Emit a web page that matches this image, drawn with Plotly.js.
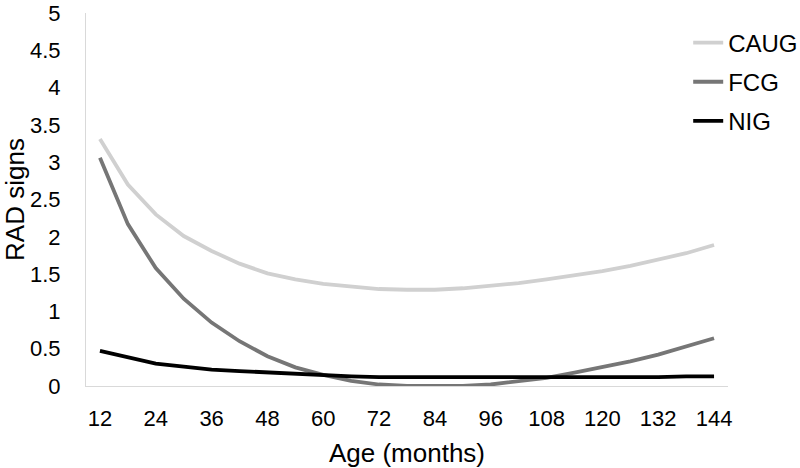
<!DOCTYPE html>
<html>
<head>
<meta charset="utf-8">
<script src="https://cdn.plot.ly/plotly-3.0.1.min.js"></script>
<style>html,body{margin:0;padding:0;background:#fff;}#chart{width:800px;height:468px;}</style>
</head>
<body>
<div id="chart"></div>
<script>
const ageMonths = [12,18,24,30,36,42,48,54,60,66,72,78,84,90,96,102,108,114,120,126,132,138,144];
const caug = [3.31,2.70,2.30,2.01,1.81,1.64,1.51,1.43,1.37,1.33,1.30,1.29,1.29,1.31,1.34,1.38,1.43,1.48,1.54,1.61,1.69,1.78,1.89];
const fcg  = [3.06,2.17,1.58,1.17,0.85,0.60,0.40,0.25,0.15,0.07,0.02,0.00,0.00,0.00,0.02,0.06,0.11,0.18,0.25,0.33,0.42,0.53,0.64];
const nig  = [0.47,0.38,0.30,0.26,0.22,0.20,0.18,0.16,0.14,0.13,0.12,0.12,0.11,0.11,0.11,0.11,0.11,0.11,0.11,0.12,0.12,0.13,0.13];
const xTicks = [12,24,36,48,60,72,84,96,108,120,132,144];
const yTicks = [0,0.5,1,1.5,2,2.5,3,3.5,4,4.5,5];
const yTickText = ['0','0.5','1','1.5','2','2.5','3','3.5','4','4.5','5'];

const fam = 'Liberation Sans, Arial, sans-serif';
const tickFont = {family: fam, size: 22, color: '#000'};
const titleFont = {family: fam, size: 26, color: '#000'};
const legendFont = {family: fam, size: 24, color: '#000'};

const traces = [
  {x: ageMonths, y: caug, name: 'CAUG', legendgroup: 'a', mode: 'lines', line: {color: '#d0d0d0', width: 3.8}},
  {x: ageMonths, y: fcg, name: 'FCG', legendgroup: 'b', mode: 'lines', line: {color: '#767676', width: 3.8}},
  {x: ageMonths, y: nig, name: 'NIG', legendgroup: 'c', mode: 'lines', line: {color: '#000000', width: 3.8}}
];

const layout = {
  width: 800, height: 468,
  margin: {l: 86, r: 72, t: 13, b: 82, autoexpand: false},
  paper_bgcolor: '#fff', plot_bgcolor: '#fff',
  font: tickFont,
  showlegend: true,
  legend: {x: 0.938, y: 0.98, xanchor: 'left', yanchor: 'top', tracegroupgap: 5, font: legendFont, bgcolor: 'rgba(0,0,0,0)'},
  xaxis: {
    range: [9, 147], tickvals: xTicks, ticktext: xTicks.map(String),
    showgrid: false, zeroline: false, showline: true, linecolor: '#d9d9d9', linewidth: 1,
    ticks: 'outside', ticklen: 13, tickcolor: 'rgba(0,0,0,0)', tickfont: tickFont,
    ticklabeloverflow: 'allow', automargin: false,
    title: {text: 'Age (months)', font: titleFont, standoff: 14}
  },
  yaxis: {
    range: [0, 5], tickvals: yTicks, ticktext: yTickText,
    showgrid: false, zeroline: false, showline: true, linecolor: '#d9d9d9', linewidth: 1,
    ticks: 'outside', ticklen: 20, tickcolor: 'rgba(0,0,0,0)', tickfont: tickFont,
    ticklabeloverflow: 'allow', automargin: false,
    title: {text: 'RAD signs', font: titleFont, standoff: 0}
  }
};

Plotly.newPlot('chart', traces, layout, {displayModeBar: false, staticPlot: true});
</script>
</body>
</html>
